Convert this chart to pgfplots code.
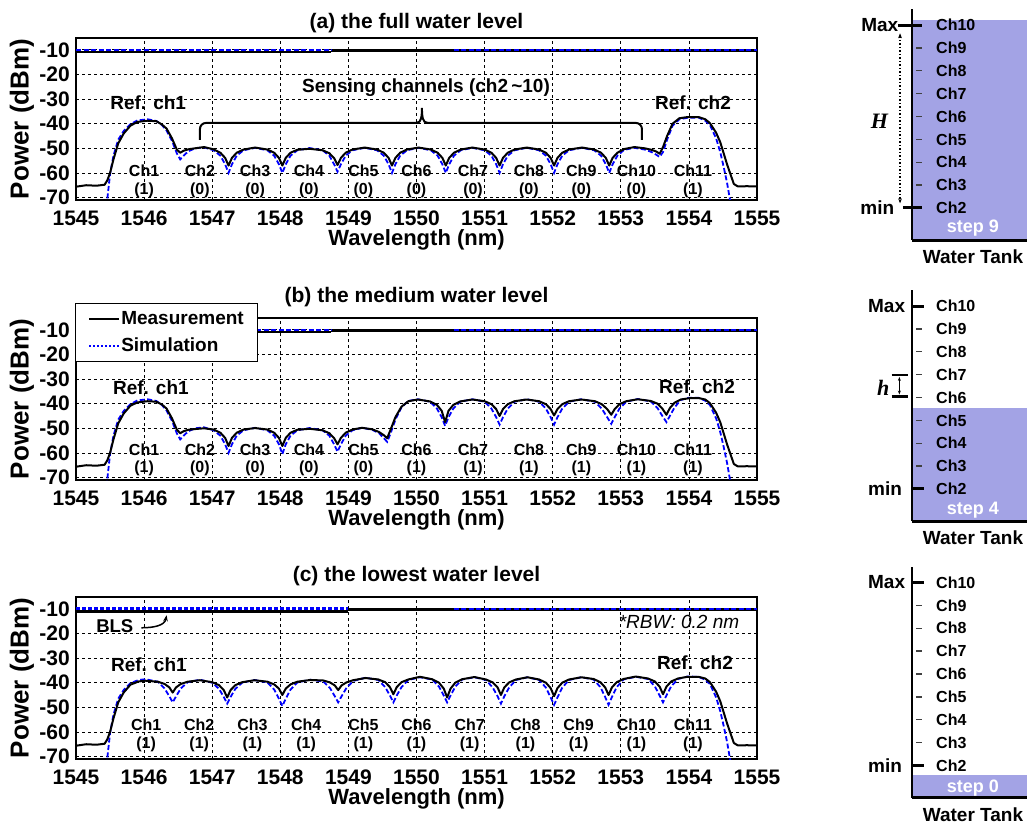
\documentclass[border=0pt]{standalone}
\usepackage{pgfplots}
\pgfplotsset{compat=1.18}
\usepackage{pgfplotstable}
\usepackage{fontspec}
\setmainfont{Liberation Sans}
\newfontfamily\seriffont{Liberation Serif}
\usetikzlibrary{arrows.meta}
\definecolor{water}{RGB}{163,163,229}
\definecolor{simblue}{RGB}{0,0,255}
\newcommand\fs[1]{\fontsize{#1}{#1}\selectfont}

\pgfplotstableread{
x m s
1545.00 -65.6 -80
1545.15 -65.0 -80
1545.30 -65.2 -80
1545.42 -64.8 -80
1545.46 -63.0 -70.5
1545.50 -60.0 -60.5
1545.55 -54.5 -53.0
1545.62 -48.0 -46.5
1545.70 -44.0 -43.0
1545.80 -40.8 -40.2
1545.90 -39.3 -38.7
1546.05 -38.8 -38.2
1546.18 -39.0 -38.9
1546.26 -40.3 -40.5
1546.33 -42.0 -42.8
1546.41 -46.0 -47.0
1546.48 -50.5 -52.0
1546.53 -51.8 -54.5
1546.58 -51.0 -53.0
1546.65 -50.4 -51.2
1546.75 -50.0 -50.0
1546.88 -49.5 -49.6
1547.02 -50.4 -50.8
1547.12 -51.8 -53.0
1547.19 -53.9 -56.5
1547.24 -57.0 -60.0
1547.29 -53.9 -56.5
1547.36 -51.8 -53.0
1547.46 -50.5 -50.8
1547.63 -49.7 -49.8
1547.81 -50.5 -50.8
1547.91 -51.8 -53.0
1547.98 -53.9 -56.5
1548.03 -57.0 -60.0
1548.08 -53.9 -56.5
1548.15 -51.8 -53.0
1548.25 -50.6 -50.8
1548.43 -50.2 -49.9
1548.62 -50.8 -50.8
1548.72 -52.0 -53.0
1548.79 -54.0 -56.5
1548.84 -56.8 -59.5
1548.89 -53.9 -56.5
1548.96 -51.8 -53.0
1549.06 -50.5 -50.8
1549.24 -49.7 -49.8
1549.42 -50.5 -50.8
1549.52 -51.8 -53.0
1549.59 -53.9 -56.5
1549.64 -57.0 -60.0
1549.69 -53.9 -56.5
1549.76 -51.8 -53.0
1549.86 -50.5 -50.8
1550.03 -49.7 -49.8
1550.21 -50.5 -50.8
1550.31 -51.8 -53.0
1550.38 -53.9 -56.5
1550.43 -57.0 -60.0
1550.48 -53.9 -56.5
1550.55 -51.8 -53.0
1550.65 -50.5 -50.8
1550.82 -49.7 -49.8
1551.00 -50.5 -50.8
1551.10 -51.8 -53.0
1551.17 -53.9 -56.5
1551.22 -57.0 -60.0
1551.27 -53.9 -56.5
1551.34 -51.8 -53.0
1551.44 -50.5 -50.8
1551.62 -49.7 -49.8
1551.80 -50.5 -50.8
1551.90 -51.8 -53.0
1551.97 -53.9 -56.5
1552.02 -57.0 -60.0
1552.07 -53.9 -56.5
1552.14 -51.8 -53.0
1552.24 -50.5 -50.8
1552.43 -49.7 -49.8
1552.61 -50.5 -50.8
1552.71 -51.8 -53.0
1552.78 -53.9 -56.5
1552.83 -57.0 -60.0
1552.88 -53.9 -56.5
1552.95 -51.8 -53.0
1553.05 -50.3 -50.6
1553.20 -49.5 -49.8
1553.35 -50.0 -50.5
1553.45 -50.6 -51.5
1553.52 -51.3 -52.6
1553.57 -52.2 -53.5
1553.62 -49.5 -51.5
1553.68 -45.0 -46.5
1553.76 -40.0 -40.8
1553.86 -37.8 -38.2
1553.98 -37.3 -37.6
1554.14 -37.3 -37.5
1554.24 -38.2 -38.8
1554.31 -39.8 -40.6
1554.40 -43.7 -46.0
1554.46 -47.5 -51.5
1554.51 -52.0 -57.5
1554.56 -56.5 -64.0
1554.61 -60.5 -72.0
1554.66 -64.5 -80
1554.72 -65.5 -80
1554.85 -65.4 -80
1555.00 -65.5 -80
}\tabA

\pgfplotstableread{
x m s
1545.00 -65.6 -80
1545.15 -65.0 -80
1545.30 -65.2 -80
1545.42 -64.8 -80
1545.46 -63.0 -70.5
1545.50 -60.0 -60.5
1545.55 -54.5 -53.0
1545.62 -48.0 -46.5
1545.70 -44.0 -43.0
1545.80 -40.8 -40.2
1545.90 -39.5 -38.7
1546.05 -39.0 -38.2
1546.18 -39.2 -38.9
1546.26 -40.3 -40.5
1546.33 -42.0 -42.8
1546.41 -46.0 -47.0
1546.48 -50.5 -52.0
1546.53 -52.0 -54.5
1546.58 -51.2 -53.0
1546.65 -50.6 -51.2
1546.75 -50.3 -50.0
1546.88 -50.0 -49.6
1547.02 -50.5 -50.8
1547.12 -51.8 -53.0
1547.19 -53.9 -56.5
1547.24 -57.2 -60.0
1547.29 -53.9 -56.5
1547.36 -51.8 -53.0
1547.46 -50.5 -50.8
1547.63 -49.9 -49.8
1547.81 -50.5 -50.8
1547.91 -51.8 -53.0
1547.98 -53.9 -56.5
1548.03 -57.2 -60.5
1548.08 -53.9 -56.5
1548.15 -51.8 -53.0
1548.25 -50.6 -50.8
1548.43 -50.2 -49.9
1548.62 -50.8 -50.8
1548.72 -52.0 -53.0
1548.79 -54.0 -56.5
1548.84 -56.5 -59.5
1548.89 -53.9 -56.5
1548.96 -51.8 -53.0
1549.06 -50.5 -50.8
1549.20 -49.8 -49.8
1549.35 -50.4 -50.6
1549.45 -51.5 -52.0
1549.52 -52.8 -54.0
1549.57 -54.0 -55.5
1549.62 -50.5 -52.0
1549.69 -45.5 -46.5
1549.78 -41.2 -41.5
1549.88 -39.0 -38.9
1550.02 -38.3 -38.2
1550.20 -39.1 -39.2
1550.30 -40.5 -42.0
1550.37 -42.9 -45.5
1550.42 -47.5 -49.0
1550.47 -42.9 -45.5
1550.54 -40.5 -42.0
1550.64 -39.1 -39.2
1550.82 -38.3 -38.2
1551.00 -39.0 -39.2
1551.10 -40.2 -42.0
1551.17 -42.2 -45.5
1551.22 -45.0 -48.5
1551.27 -42.2 -45.5
1551.34 -40.2 -42.0
1551.44 -39.0 -39.2
1551.62 -38.3 -38.2
1551.80 -39.0 -39.2
1551.90 -40.2 -42.0
1551.97 -42.2 -45.5
1552.02 -44.8 -48.5
1552.07 -42.2 -45.5
1552.14 -40.2 -42.0
1552.24 -39.0 -39.2
1552.42 -38.3 -38.2
1552.62 -39.0 -39.2
1552.72 -40.2 -42.0
1552.80 -42.2 -45.5
1552.86 -44.5 -48.2
1552.91 -42.2 -45.5
1552.98 -40.2 -42.0
1553.08 -39.0 -39.2
1553.25 -38.2 -38.1
1553.44 -38.9 -39.1
1553.54 -40.0 -41.8
1553.61 -42.0 -45.0
1553.67 -44.5 -47.5
1553.72 -41.8 -45.0
1553.79 -39.6 -41.5
1553.88 -38.3 -38.5
1554.00 -37.8 -37.6
1554.14 -37.7 -37.6
1554.24 -38.3 -38.8
1554.31 -39.8 -40.6
1554.40 -43.7 -46.0
1554.46 -47.5 -51.5
1554.51 -52.0 -57.5
1554.56 -56.5 -64.0
1554.61 -60.5 -72.0
1554.66 -64.5 -80
1554.72 -65.5 -80
1554.85 -65.4 -80
1555.00 -65.5 -80
}\tabB

\pgfplotstableread{
x m s
1545.00 -65.6 -80
1545.15 -65.0 -80
1545.30 -65.2 -80
1545.42 -64.8 -80
1545.46 -63.0 -70.5
1545.50 -60.0 -60.5
1545.55 -54.5 -53.0
1545.62 -48.0 -46.5
1545.70 -44.0 -43.0
1545.80 -40.8 -40.2
1545.92 -39.5 -38.9
1546.02 -39.2 -38.6
1546.20 -39.6 -39.6
1546.30 -40.5 -42.3
1546.37 -41.9 -45.5
1546.42 -44.0 -48.0
1546.47 -41.9 -45.5
1546.54 -40.5 -42.3
1546.64 -39.6 -39.8
1546.82 -39.0 -38.8
1547.00 -39.8 -40.0
1547.10 -41.0 -42.5
1547.17 -43.0 -45.8
1547.22 -46.0 -48.5
1547.27 -43.0 -45.8
1547.34 -41.0 -42.5
1547.44 -39.8 -40.0
1547.62 -39.0 -38.9
1547.81 -39.6 -39.9
1547.91 -40.7 -42.8
1547.98 -42.4 -46.5
1548.03 -45.0 -49.5
1548.08 -42.4 -46.5
1548.15 -40.7 -42.8
1548.25 -39.6 -39.9
1548.44 -38.9 -38.8
1548.63 -39.1 -39.5
1548.73 -39.9 -42.2
1548.80 -41.1 -45.5
1548.85 -43.0 -48.0
1548.90 -41.1 -45.5
1548.97 -39.9 -42.2
1549.07 -39.0 -39.3
1549.25 -38.1 -38.0
1549.44 -38.7 -38.9
1549.54 -39.8 -41.8
1549.61 -41.8 -45.2
1549.66 -44.7 -48.0
1549.71 -41.8 -45.2
1549.78 -39.8 -41.8
1549.88 -38.7 -38.9
1550.05 -37.6 -37.8
1550.23 -38.6 -38.7
1550.33 -40.0 -41.6
1550.40 -42.4 -45.2
1550.45 -46.0 -48.0
1550.50 -42.4 -45.2
1550.57 -40.0 -41.6
1550.67 -38.6 -38.7
1550.85 -37.7 -37.8
1551.02 -38.7 -38.9
1551.12 -39.9 -42.0
1551.19 -41.9 -45.5
1551.24 -45.0 -48.5
1551.29 -41.9 -45.5
1551.36 -39.9 -42.0
1551.46 -38.7 -38.9
1551.63 -37.8 -37.8
1551.80 -38.7 -38.9
1551.90 -40.0 -42.0
1551.97 -42.2 -46.0
1552.02 -45.5 -49.0
1552.07 -42.2 -46.0
1552.14 -40.0 -42.0
1552.24 -38.7 -38.9
1552.42 -37.8 -37.8
1552.60 -38.5 -38.7
1552.70 -39.8 -41.8
1552.77 -41.9 -45.8
1552.82 -45.0 -49.0
1552.87 -41.9 -45.8
1552.94 -39.8 -41.8
1553.04 -38.5 -38.7
1553.22 -37.5 -37.6
1553.40 -38.3 -38.5
1553.50 -39.5 -41.5
1553.57 -41.6 -45.2
1553.62 -44.7 -48.0
1553.67 -41.6 -45.2
1553.74 -39.5 -41.5
1553.84 -38.3 -38.5
1553.98 -37.6 -37.5
1554.14 -37.6 -37.6
1554.24 -38.3 -38.8
1554.31 -39.8 -40.6
1554.40 -43.7 -46.0
1554.46 -47.5 -51.5
1554.51 -52.0 -57.5
1554.56 -56.5 -64.0
1554.61 -60.5 -72.0
1554.66 -64.5 -80
1554.72 -65.5 -80
1554.85 -65.4 -80
1555.00 -65.5 -80
}\tabC

\pgfplotsset{
  every axis title shift=0pt,
  spec/.style={
    width=681pt, height=162pt, scale only axis,
    xmin=1545, xmax=1555, ymin=-71, ymax=-5.2,
    xtick={1545,1546,1547,1548,1549,1550,1551,1552,1553,1554,1555},
    xticklabels={1545,1546,1547,1548,1549,1550,1551,1552,1553,1554,1555},
    ytick={-70,-60,-50,-40,-30,-20,-10},
    yticklabels={-70,-60,-50,-40,-30,-20,-10},
    major tick length=0pt,
    grid=major,
    major grid style={black, line width=0.7pt, dash pattern=on 3pt off 3pt},
    axis line style={line width=1.6pt},
    ticklabel style={font=\bfseries\fs{21}, inner sep=1pt},
    xticklabel style={yshift=-9.5pt},
    yticklabel style={xshift=-5pt},
    title style={font=\bfseries\fs{21}, at={(axis description cs:0.5,1.13)}, anchor=center},
    xlabel style={font=\bfseries\fs{22}, at={(axis description cs:0.5,-0.247)}, anchor=center},
    ylabel style={font=\bfseries\fs{26}, at={(axis description cs:-0.0793,0.5)}, anchor=center},
    xlabel={Wavelength (nm)}, ylabel={Power (dBm)},
    clip=true,
  },
  tankax/.style={width=115pt, height=231pt, scale only axis, hide axis, clip=false,
    xmin=0, xmax=1, ymin=0.6, ymax=10.7},
  meas/.style={black, line width=2pt, line join=round},
  sim/.style={simblue, line width=1.8pt, dash pattern=on 5pt off 2.5pt},
}

\newcommand\chlab[5]{%
  \node[font=\bfseries\fs{16}] at (axis cs:#1,#2) {Ch#4};
  \node[font=\bfseries\fs{16}] at (axis cs:#1,#3) {(#5)};}

\newcommand\tankcommon{%
  \draw[line width=2.2pt] (axis cs:0,0.6) -- (axis cs:0,10.7);
  \draw[line width=3pt] (axis cs:0,0.6) -- (axis cs:1,0.6);
  \draw[line width=1.3pt, black!75] (axis cs:0.035,3) -- (axis cs:0.087,3);
  \draw[line width=1.3pt, black!75] (axis cs:0.035,4) -- (axis cs:0.087,4);
  \draw[line width=1.3pt, black!75] (axis cs:0.035,5) -- (axis cs:0.087,5);
  \draw[line width=1.3pt, black!75] (axis cs:0.035,6) -- (axis cs:0.087,6);
  \draw[line width=1.3pt, black!75] (axis cs:0.035,7) -- (axis cs:0.087,7);
  \draw[line width=1.3pt, black!75] (axis cs:0.035,8) -- (axis cs:0.087,8);
  \draw[line width=1.3pt, black!75] (axis cs:0.035,9) -- (axis cs:0.087,9);
  \node[font=\bfseries\fs{16}, anchor=west] at (axis cs:0.18,10) {Ch10};
  \node[font=\bfseries\fs{16}, anchor=west] at (axis cs:0.18,9) {Ch9};
  \node[font=\bfseries\fs{16}, anchor=west] at (axis cs:0.18,8) {Ch8};
  \node[font=\bfseries\fs{16}, anchor=west] at (axis cs:0.18,7) {Ch7};
  \node[font=\bfseries\fs{16}, anchor=west] at (axis cs:0.18,6) {Ch6};
  \node[font=\bfseries\fs{16}, anchor=west] at (axis cs:0.18,5) {Ch5};
  \node[font=\bfseries\fs{16}, anchor=west] at (axis cs:0.18,4) {Ch4};
  \node[font=\bfseries\fs{16}, anchor=west] at (axis cs:0.18,3) {Ch3};
  \node[font=\bfseries\fs{16}, anchor=west] at (axis cs:0.18,2) {Ch2};
  \node[font=\bfseries\fs{19}] at (axis cs:0.53,-0.14) {Water Tank};}

\begin{document}
\begin{tikzpicture}
\path[use as bounding box] (0pt,0pt) rectangle (1027pt,-826pt);

% ---------------- (a) ----------------
\begin{axis}[spec, at={(76pt,-38pt)}, anchor=north west, title={(a) the full water level},
  title style={yshift=-6pt}]
\addplot[black, line width=2.4pt, forget plot] coordinates {(1545,-10.8) (1548.75,-10.8)};
\addplot[black, line width=2.4pt, forget plot] coordinates {(1548.75,-10.3) (1555,-10.3)};
\addplot[sim, forget plot] coordinates {(1545,-10.1) (1548.75,-10.1)};
\addplot[sim, forget plot] coordinates {(1550.55,-10.0) (1555,-10.0)};
\addplot[sim, forget plot] table[x=x, y=s] {\tabA};
\addplot[meas, forget plot] table[x=x, y=m] {\tabA};
\chlab{1546.00}{-59.1}{-66.9}{1}{1}
\chlab{1546.82}{-59.1}{-66.9}{2}{0}
\chlab{1547.63}{-59.1}{-66.9}{3}{0}
\chlab{1548.42}{-59.1}{-66.9}{4}{0}
\chlab{1549.22}{-59.1}{-66.9}{5}{0}
\chlab{1550.00}{-59.1}{-66.9}{6}{0}
\chlab{1550.83}{-59.1}{-66.9}{7}{0}
\chlab{1551.65}{-59.1}{-66.9}{8}{0}
\chlab{1552.42}{-59.1}{-66.9}{9}{0}
\chlab{1553.23}{-59.1}{-66.9}{10}{0}
\chlab{1554.06}{-59.1}{-66.9}{11}{1}
\node[font=\bfseries\fs{19}] at (axis cs:1546.06,-31.5) {Ref. ch1};
\node[font=\bfseries\fs{19}] at (axis cs:1554.06,-31.5) {Ref. ch2};
\node[font=\bfseries\fs{19}] at (axis cs:1550.14,-25.4) {Sensing channels (ch2\,\textasciitilde10)};
\draw[line width=2pt, rounded corners=6pt] (axis cs:1546.82,-46.6) |- (axis cs:1550.02,-39.7);
\draw[line width=2pt] (axis cs:1550.0,-39.7) .. controls (axis cs:1550.07,-39.7) and (axis cs:1550.08,-37) .. (axis cs:1550.08,-33.6) .. controls (axis cs:1550.08,-37) and (axis cs:1550.09,-39.7) .. (axis cs:1550.16,-39.7);
\draw[line width=2pt, rounded corners=6pt] (axis cs:1550.14,-39.7) -| (axis cs:1553.31,-46.6);
\end{axis}

% ---------------- (b) ----------------
\begin{axis}[spec, at={(76pt,-318pt)}, anchor=north west, title={(b) the medium water level},
  legend style={at={(axis description cs:-0.002,1.093)}, anchor=north west, draw=black,
    line width=1.3pt, fill=white, font=\bfseries\fs{19}, inner xsep=13pt, inner ysep=7pt,
    row sep=10pt, nodes={inner sep=1pt}},
  legend cell align=left,
  legend image code/.code={\draw[#1] (0pt,0pt) -- (30pt,0pt);}]
\addlegendimage{black, line width=2pt}
\addlegendentry{Measurement}
\addlegendimage{simblue, line width=2pt, dotted}
\addlegendentry{Simulation}
\addplot[black, line width=2.4pt, forget plot] coordinates {(1545,-10.8) (1548.75,-10.8)};
\addplot[black, line width=2.4pt, forget plot] coordinates {(1548.75,-10.3) (1555,-10.3)};
\addplot[sim, forget plot] coordinates {(1545,-10.1) (1548.75,-10.1)};
\addplot[sim, forget plot] coordinates {(1550.55,-10.0) (1555,-10.0)};
\addplot[sim, forget plot] table[x=x, y=s] {\tabB};
\addplot[meas, forget plot] table[x=x, y=m] {\tabB};
\chlab{1546.00}{-58.6}{-66.3}{1}{1}
\chlab{1546.82}{-58.6}{-66.3}{2}{0}
\chlab{1547.63}{-58.6}{-66.3}{3}{0}
\chlab{1548.42}{-58.6}{-66.3}{4}{0}
\chlab{1549.22}{-58.6}{-66.3}{5}{0}
\chlab{1550.00}{-58.6}{-66.3}{6}{1}
\chlab{1550.83}{-58.6}{-66.3}{7}{1}
\chlab{1551.65}{-58.6}{-66.3}{8}{1}
\chlab{1552.42}{-58.6}{-66.3}{9}{1}
\chlab{1553.23}{-58.6}{-66.3}{10}{1}
\chlab{1554.06}{-58.6}{-66.3}{11}{1}
\node[font=\bfseries\fs{19}] at (axis cs:1546.10,-33.6) {Ref. ch1};
\node[font=\bfseries\fs{19}] at (axis cs:1554.12,-33.3) {Ref. ch2};
\end{axis}

% ---------------- (c) ----------------
\begin{axis}[spec, at={(76pt,-597pt)}, anchor=north west, title={(c) the lowest water level}]
\addplot[black, line width=2.6pt, forget plot] coordinates {(1545,-11.0) (1549.0,-11.0)};
\addplot[black, line width=2.4pt, forget plot] coordinates {(1549.0,-10.2) (1555,-10.2)};
\addplot[simblue, line width=2.4pt, dash pattern=on 4pt off 2pt, forget plot] coordinates {(1545,-9.8) (1549.0,-9.8)};
\addplot[sim, forget plot] coordinates {(1550.55,-10.0) (1555,-10.0)};
\addplot[sim, forget plot] table[x=x, y=s] {\tabC};
\addplot[meas, forget plot] table[x=x, y=m] {\tabC};
\chlab{1546.03}{-57.3}{-65.0}{1}{1}
\chlab{1546.81}{-57.3}{-65.0}{2}{1}
\chlab{1547.59}{-57.3}{-65.0}{3}{1}
\chlab{1548.38}{-57.3}{-65.0}{4}{1}
\chlab{1549.22}{-57.3}{-65.0}{5}{1}
\chlab{1550.00}{-57.3}{-65.0}{6}{1}
\chlab{1550.78}{-57.3}{-65.0}{7}{1}
\chlab{1551.60}{-57.3}{-65.0}{8}{1}
\chlab{1552.38}{-57.3}{-65.0}{9}{1}
\chlab{1553.23}{-57.3}{-65.0}{10}{1}
\chlab{1554.06}{-57.3}{-65.0}{11}{1}
\node[font=\bfseries\fs{19}] at (axis cs:1546.07,-32.5) {Ref. ch1};
\node[font=\bfseries\fs{19}] at (axis cs:1554.09,-31.7) {Ref. ch2};
\node[font=\bfseries\fs{18.5}] at (axis cs:1545.57,-17.2) {BLS};
\draw[line width=1.5pt, -{Stealth[length=6pt]}] (axis cs:1545.96,-17.7) to[out=0, in=-100] (axis cs:1546.33,-12.6);
\node[font=\itshape\fs{19}, anchor=east] at (axis cs:1554.79,-15.5) {*RBW: 0.2 nm};
\end{axis}

% ---------------- tanks ----------------
\begin{axis}[tankax, at={(912pt,-240pt)}, anchor=south west]
\addplot[draw=none, fill=water, forget plot] coordinates {(0,0.6) (1,0.6) (1,10.22) (0,10.22)} -- cycle;
\tankcommon
\draw[line width=3pt] (axis cs:-0.12,10) -- (axis cs:0.087,10);
\draw[line width=3pt] (axis cs:-0.08,2) -- (axis cs:0.087,2);
\node[font=\bfseries\fs{19}, anchor=west, inner sep=0pt] at (axis cs:-0.443,10) {Max};
\node[font=\bfseries\fs{19}, anchor=west, inner sep=0pt] at (axis cs:-0.45,2) {min};
\draw[line width=1.5pt, dotted, {Stealth[length=5pt]}-{Stealth[length=5pt]}] (axis cs:-0.104,9.64) -- (axis cs:-0.104,2.2);
\node[font=\seriffont\bfseries\itshape\fs{22}] at (axis cs:-0.284,5.77) {H};
\node[font=\bfseries\fs{18}, text=white] at (axis cs:0.53,1.11) {step 9};
\end{axis}

\begin{axis}[tankax, at={(912pt,-521pt)}, anchor=south west]
\addplot[draw=none, fill=water, forget plot] coordinates {(0,0.6) (1,0.6) (1,5.54) (0,5.54)} -- cycle;
\tankcommon
\draw[line width=3pt] (axis cs:0,10) -- (axis cs:0.1,10);
\draw[line width=3pt] (axis cs:0,2) -- (axis cs:0.1,2);
\node[font=\bfseries\fs{19}, anchor=west, inner sep=0pt] at (axis cs:-0.383,10) {Max};
\node[font=\bfseries\fs{19}, anchor=west, inner sep=0pt] at (axis cs:-0.383,2) {min};
\draw[line width=2.5pt] (axis cs:-0.177,6.98) -- (axis cs:-0.032,6.98);
\draw[line width=2.5pt] (axis cs:-0.177,6.05) -- (axis cs:-0.032,6.05);
\draw[line width=1.3pt, {Stealth[length=4pt]}-{Stealth[length=4pt]}] (axis cs:-0.11,6.9) -- (axis cs:-0.11,6.13);
\node[font=\seriffont\bfseries\itshape\fs{22}] at (axis cs:-0.25,6.4) {h};
\node[font=\bfseries\fs{18}, text=white] at (axis cs:0.53,1.07) {step 4};
\end{axis}

\begin{axis}[tankax, at={(912pt,-797.5pt)}, anchor=south west]
\addplot[draw=none, fill=water, forget plot] coordinates {(0,0.6) (1,0.6) (1,1.6) (0,1.6)} -- cycle;
\tankcommon
\draw[line width=3pt] (axis cs:0,10) -- (axis cs:0.1,10);
\draw[line width=3pt] (axis cs:0,2) -- (axis cs:0.1,2);
\node[font=\bfseries\fs{19}, anchor=west, inner sep=0pt] at (axis cs:-0.383,10) {Max};
\node[font=\bfseries\fs{19}, anchor=west, inner sep=0pt] at (axis cs:-0.383,2) {min};
\node[font=\bfseries\fs{18}, text=white] at (axis cs:0.53,1.0) {step 0};
\end{axis}
\end{tikzpicture}
\end{document}
